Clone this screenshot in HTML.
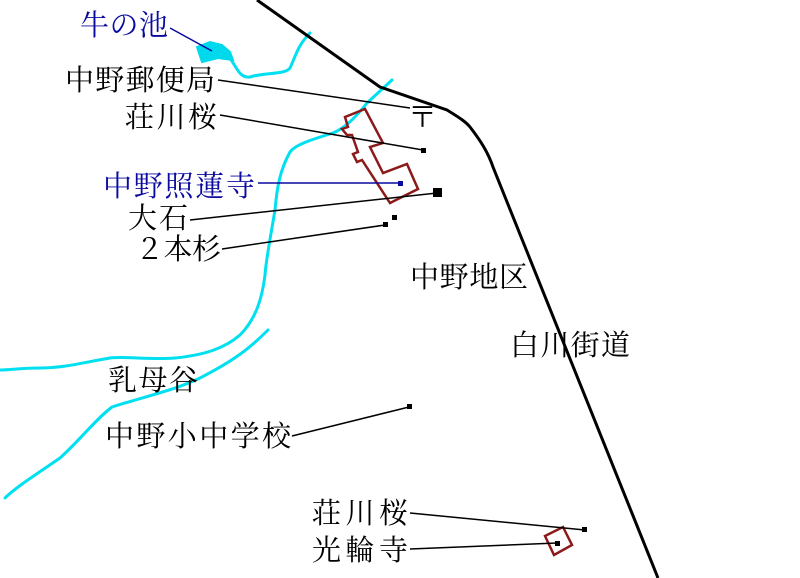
<!DOCTYPE html>
<html><head><meta charset="utf-8"><style>
html,body{margin:0;padding:0;background:#fff;}
svg{display:block}
text{font-family:"Liberation Serif","Noto Serif CJK SC","Noto Sans CJK JP",serif;font-size:29px;}
</style></head><body>
<svg width="800" height="578" viewBox="0 0 800 578" xmlns="http://www.w3.org/2000/svg">
<g fill="none" stroke="#00e0f0" stroke-width="3" stroke-linejoin="round" stroke-linecap="round">
<path d="M230,58 C238,70 240,78 250,77 C265,72 285,75 290,68 C296,55 298,45 310,33"/>
<path d="M392,80 L367,103 C355,118 345,128 333,133 C310,140 295,145 290,152 C280,170 277,187 275,210 C270,240 266,260 265,275 C262,300 255,320 240,335 C225,348 205,355 175,358 C150,360 125,356 110,358 C85,362 65,368 40,368 C20,368 10,370 0,370"/>
<path d="M268,330 C250,348 235,360 200,378 C175,390 150,395 112,407 C95,420 80,440 60,458 C35,475 15,488 5,498"/>
</g>
<path d="M197,47 L210,42 L222,45 L230,52 L233,60 L218,58 L202,62 Z" fill="#00d8ec" stroke="#00d8ec" stroke-width="2"/>
<path d="M257,0 L380,87 L447,110 C460,118 466,122 470,127 C480,140 488,152 493,167 L658,578" fill="none" stroke="#000" stroke-width="3"/>
<g fill="none" stroke="#8b1a1a" stroke-width="2.5" stroke-linejoin="miter">
<path d="M345,117 L365,109 L383,143 L370,147 L383,173 L407,164 L418,189 L390,203 L362,160 L357,162 L353,154 L358,152 L352,135 L347,135 L342,129 L348,127 Z"/>
<path d="M545,536 L563,527 L572,545 L554,555 Z"/>
</g>
<g stroke="#000" stroke-width="1.5">
<line x1="218" y1="80" x2="410" y2="108"/>
<line x1="220" y1="115" x2="423" y2="150"/>
<line x1="190" y1="220" x2="437" y2="193"/>
<line x1="222" y1="249" x2="385" y2="225"/>
<line x1="292" y1="436" x2="409" y2="407"/>
<line x1="410" y1="513" x2="585" y2="530"/>
<line x1="410" y1="549" x2="557" y2="543"/>
</g>
<g stroke="#0a0aa0" stroke-width="1.5">
<line x1="170" y1="28" x2="212" y2="51"/>
<line x1="258" y1="183" x2="400" y2="183"/>
</g>
<rect x="398" y="181" width="5" height="5" fill="#0a0aa0"/>
<g fill="#000">
<rect x="421" y="148" width="5" height="5"/>
<rect x="433" y="188" width="9" height="9"/>
<rect x="383" y="222" width="5" height="5"/>
<rect x="392" y="215" width="5" height="5"/>
<rect x="407" y="404" width="5" height="5"/>
<rect x="582" y="527" width="5" height="5"/>
<rect x="555" y="541" width="5" height="5"/>
</g>
<text x="408" y="127" font-size="28">〒</text>
<text x="80" y="35" fill="#0a0aa0" textLength="88" lengthAdjust="spacing">牛の池</text>
<text x="65" y="90" textLength="150" lengthAdjust="spacing">中野郵便局</text>
<text x="125" y="127" textLength="92" lengthAdjust="spacing">荘川桜</text>
<text x="103" y="196" fill="#0a0aa0" textLength="152" lengthAdjust="spacing">中野照蓮寺</text>
<text x="128" y="228" textLength="60" lengthAdjust="spacing">大石</text>
<text x="135" y="259" textLength="86" lengthAdjust="spacing">２本杉</text>
<text x="410" y="287" textLength="118" lengthAdjust="spacing">中野地区</text>
<text x="510" y="355" textLength="120" lengthAdjust="spacing">白川街道</text>
<text x="108" y="390" textLength="90" lengthAdjust="spacing">乳母谷</text>
<text x="105" y="446" textLength="186" lengthAdjust="spacing">中野小中学校</text>
<text x="312" y="523" textLength="96" lengthAdjust="spacing">荘川桜</text>
<text x="312" y="560" textLength="96" lengthAdjust="spacing">光輪寺</text>
</svg>
</body></html>
